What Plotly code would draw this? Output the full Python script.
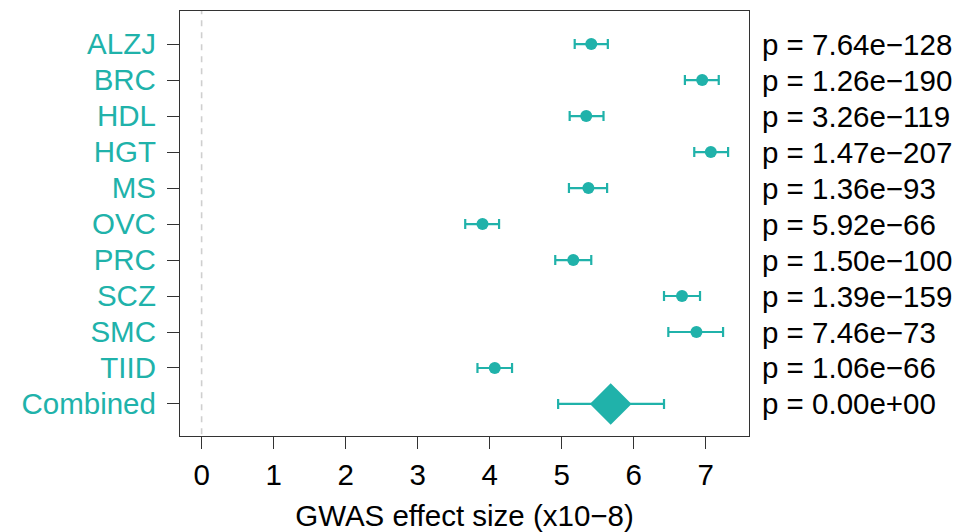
import plotly.graph_objects as go

categories = ["ALZJ", "BRC", "HDL", "HGT", "MS", "OVC", "PRC", "SCZ", "SMC", "TIID"]
effect = [5.41, 6.95, 5.34, 7.07, 5.37, 3.90, 5.16, 6.67, 6.87, 4.07]
lower = [5.18, 6.71, 5.11, 6.84, 5.10, 3.66, 4.91, 6.42, 6.48, 3.83]
upper = [5.64, 7.18, 5.58, 7.31, 5.63, 4.13, 5.41, 6.92, 7.24, 4.31]
combined_label = "Combined"
combined_effect = 5.68
combined_lower = 4.95
combined_upper = 6.42
pvalues = ["7.64e\u2212128", "1.26e\u2212190", "3.26e\u2212119", "1.47e\u2212207", "1.36e\u221293",
           "5.92e\u221266", "1.50e\u2212100", "1.39e\u2212159", "7.46e\u221273", "1.06e\u221266",
           "0.00e+00"]
x_ticks = [0, 1, 2, 3, 4, 5, 6, 7]
x_title = "GWAS effect size (x10\u22128)"

TEAL = "#20B2AA"
FONT = "Liberation Sans, Arial, Helvetica, sans-serif"
FS = 29.5

labels = categories + [combined_label]
ypos = list(range(len(labels)))

fig = go.Figure()

# dashed zero line
fig.add_trace(go.Scatter(
    x=[0, 0], y=[-2, 12], mode="lines",
    line=dict(color="#cfcfcf", width=1.6, dash="6px,6px"),
    hoverinfo="skip", showlegend=False))

# individual studies
fig.add_trace(go.Scatter(
    x=effect, y=ypos[:-1], mode="markers",
    marker=dict(color=TEAL, size=12, symbol="circle"),
    error_x=dict(type="data", symmetric=False,
                 array=[u - e for u, e in zip(upper, effect)],
                 arrayminus=[e - l for e, l in zip(effect, lower)],
                 color=TEAL, thickness=2.2, width=5),
    showlegend=False))

# combined
fig.add_trace(go.Scatter(
    x=[combined_effect], y=[ypos[-1]], mode="markers",
    marker=dict(color=TEAL, size=32, symbol="diamond"),
    error_x=dict(type="data", symmetric=False,
                 array=[combined_upper - combined_effect],
                 arrayminus=[combined_effect - combined_lower],
                 color=TEAL, thickness=2.2, width=5),
    showlegend=False))

for y, p in zip(ypos, pvalues):
    fig.add_annotation(x=1, xref="paper", y=y, yref="y", text="p = " + p,
                       showarrow=False, xanchor="left", yanchor="middle",
                       xshift=11, font=dict(family=FONT, size=FS, color="black"))

fig.update_layout(
    width=968, height=532,
    margin=dict(l=180, r=219, t=11, b=96),
    plot_bgcolor="white", paper_bgcolor="white",
    font=dict(family=FONT, size=FS, color="black"),
    xaxis=dict(range=[-0.30, 7.6], tickvals=x_ticks, ticktext=[str(t) for t in x_ticks],
               automargin=False,
               showgrid=False, zeroline=False, showline=True, mirror=True,
               linecolor="#333333", linewidth=1.3,
               ticks="outside", ticklen=12, tickwidth=1.3, tickcolor="#333333",
               tickfont=dict(family=FONT, size=FS, color="black"),
               title=dict(text=x_title, font=dict(family=FONT, size=FS, color="black"), standoff=20)),
    yaxis=dict(range=[10.89, -0.92], tickvals=ypos, ticktext=labels,
               automargin=False,
               showgrid=False, zeroline=False, showline=True, mirror=True,
               linecolor="#333333", linewidth=1.3,
               ticks="outside", ticklen=12, tickwidth=1.3, tickcolor="#333333",
               ticklabelstandoff=5,
               tickfont=dict(family=FONT, size=FS, color=TEAL)),
)

fig.write_html("out.html")
